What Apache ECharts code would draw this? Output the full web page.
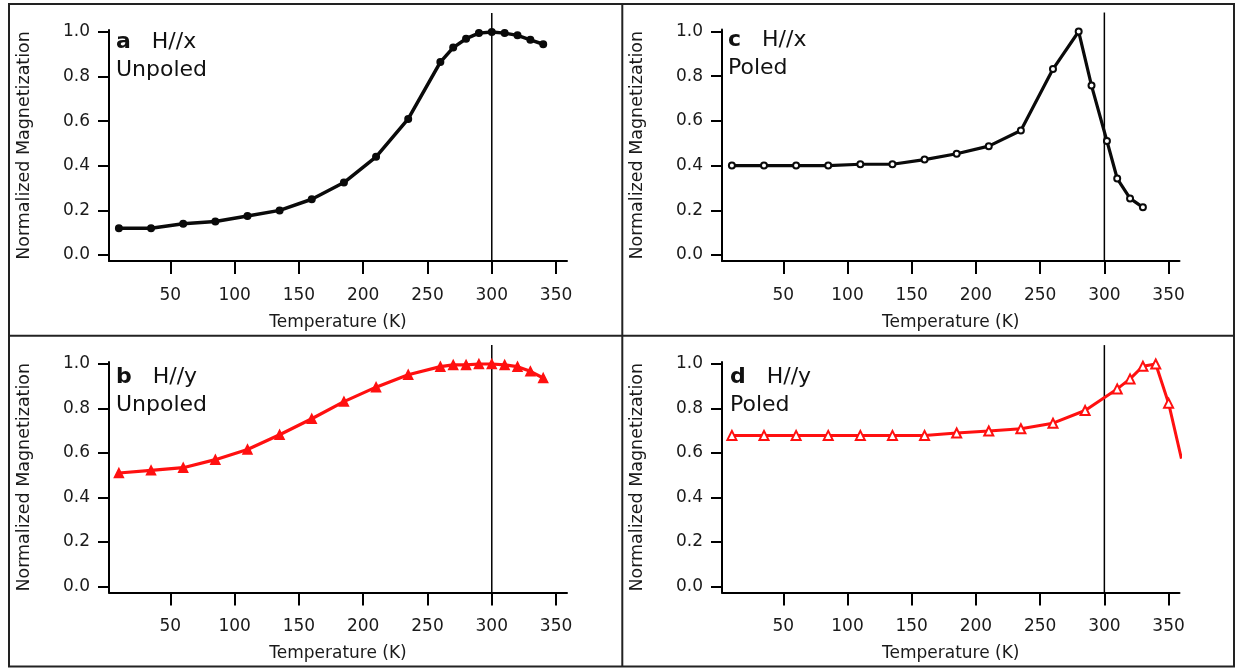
<!DOCTYPE html>
<html>
<head>
<meta charset="utf-8">
<script src="https://cdn.jsdelivr.net/npm/echarts@6/dist/echarts.min.js"></script>
<style>
html,body{margin:0;padding:0;background:#fff;}
#chart{width:1235px;height:669px;}
</style>
</head>
<body>
<div id="chart"></div>
<script>
// ---- data ----
const tempA = [10,35,60,85,110,135,160,185,210,235,260,270,280,290,300,310,320,330,340];
const magA  = [0.12,0.12,0.14,0.15,0.175,0.2,0.25,0.325,0.44,0.61,0.865,0.93,0.97,0.995,1.0,0.995,0.985,0.965,0.945];

const tempB = [10,35,60,85,110,135,160,185,210,235,260,270,280,290,300,310,320,330,340];
const magB  = [0.51,0.522,0.534,0.57,0.616,0.682,0.754,0.831,0.896,0.952,0.988,0.996,0.996,1.0,1.0,0.996,0.988,0.967,0.937];

const tempC = [10,35,60,85,110,135,160,185,210,235,260,280,290,302,310,320,330];
const magC  = [0.40,0.40,0.40,0.40,0.406,0.406,0.427,0.453,0.487,0.557,0.832,1.0,0.758,0.51,0.342,0.253,0.213];

const tempD = [10,35,60,85,110,135,160,185,210,235,260,285,310,320,330,340,350,360];
const magD  = [0.679,0.679,0.679,0.679,0.679,0.679,0.679,0.69,0.699,0.709,0.734,0.791,0.888,0.933,0.99,1.0,0.824,0.575];

const xTicks = [50,100,150,200,250,300,350];
const yTicks = [0.0,0.2,0.4,0.6,0.8,1.0];
const refTemp = 300;            // vertical reference line
const refLineSpan = [-0.027, 1.085];

const panelLabels = [
  {letter:'a', field:'H//x', state:'Unpoled'},
  {letter:'b', field:'H//y', state:'Unpoled'},
  {letter:'c', field:'H//x', state:'Poled'},
  {letter:'d', field:'H//y', state:'Poled'}
];

// ---- layout ----
const FONT = 'DejaVu Sans';
const grids = [
  {left:109, top:30,    width:458, height:231},   // a
  {left:109, top:362,   width:458, height:230.5}, // b
  {left:722, top:29.5,  width:457.5, height:231.5}, // c
  {left:722, top:362,   width:457.5, height:230.5}  // d
];
const labelPos = [
  {left:116, top:28},
  {left:116, top:363},
  {left:728, top:26},
  {left:730, top:363}
];

const seriesDefs = [
  {t:tempA, m:magA, color:'#0a0a0a', symbol:'circle', size:6.5, width:3.5},
  {t:tempB, m:magB, color:'#ff1010', symbol:'triangle', size:9, width:3.2},
  {t:tempC, m:magC, color:'#0a0a0a', symbol:'emptyCircle', size:6, width:3.2},
  {t:tempD, m:magD, color:'#ff1010', symbol:'emptyTriangle', size:9, width:3}
];

const xAxes = grids.map((g,i)=>({
  type:'value', gridIndex:i, min:2.3, max:358.5,
  name:'Temperature (K)', nameLocation:'middle', nameGap:53,
  nameTextStyle:{fontFamily:FONT, fontSize:17, color:'#1a1a1a'},
  axisLine:{onZero:false, lineStyle:{color:'#000', width:2}},
  axisTick:{show:true, length:13, inside:false, customValues:xTicks, lineStyle:{color:'#000', width:2}},
  axisLabel:{customValues:xTicks, margin:26, fontFamily:FONT, fontSize:17, color:'#1a1a1a'},
  splitLine:{show:false}
}));
const yAxes = grids.map((g,i)=>({
  type:'value', gridIndex:i, min:-0.027, max:1.009,
  name:'Normalized Magnetization', nameLocation:'middle', nameGap:76,
  nameTextStyle:{fontFamily:FONT, fontSize:17.5, color:'#1a1a1a'},
  axisLine:{onZero:false, lineStyle:{color:'#000', width:2}},
  axisTick:{show:true, length:11, inside:false, customValues:yTicks, lineStyle:{color:'#000', width:2}},
  axisLabel:{customValues:yTicks, margin:19, fontFamily:FONT, fontSize:17, color:'#1a1a1a',
    formatter:v=>Number(v).toFixed(1)},
  splitLine:{show:false}
}));

const series = [];
seriesDefs.forEach((s,i)=>{
  series.push({
    type:'line', xAxisIndex:i, yAxisIndex:i,
    data:s.t.map((t,k)=>[t, s.m[k]]),
    symbol:s.symbol, symbolSize:s.size, showAllSymbol:true,
    clip:true,
    lineStyle:{color:s.color, width:s.width},
    itemStyle:{color:s.color, borderColor:s.color, borderWidth:1.5},
    animation:false, z:3
  });
  series.push({
    type:'line', xAxisIndex:i, yAxisIndex:i,
    data:[[refTemp, refLineSpan[0]],[refTemp, refLineSpan[1]]],
    symbol:'none', clip:false,
    lineStyle:{color:'#000', width:1.5},
    animation:false, z:2
  });
});

const titles = panelLabels.map((p,i)=>({
  left:labelPos[i].left, top:labelPos[i].top, padding:0,
  text:'{b|'+p.letter+'}   '+p.field+'\n'+p.state,
  textStyle:{fontFamily:FONT, fontSize:22, fontWeight:'normal', color:'#111', lineHeight:28,
    rich:{b:{fontFamily:FONT, fontSize:22, fontWeight:'bold', color:'#111', lineHeight:28}}}
}));

const option = {
  animation:false,
  backgroundColor:'#fff',
  title:titles,
  grid:grids.map(g=>Object.assign({containLabel:false}, g)),
  xAxis:xAxes,
  yAxis:yAxes,
  series:series,
  graphic:[
    {type:'rect', shape:{x:9, y:4, width:1225, height:662.5}, style:{fill:null, stroke:'#222', lineWidth:2}, silent:true},
    {type:'line', shape:{x1:622.3, y1:4, x2:622.3, y2:666.5}, style:{stroke:'#222', lineWidth:2}, silent:true},
    {type:'line', shape:{x1:9, y1:335.7, x2:1234, y2:335.7}, style:{stroke:'#222', lineWidth:2}, silent:true}
  ]
};

const chart = echarts.init(document.getElementById('chart'), null, {renderer:'canvas'});
chart.setOption(option);
</script>
</body>
</html>
